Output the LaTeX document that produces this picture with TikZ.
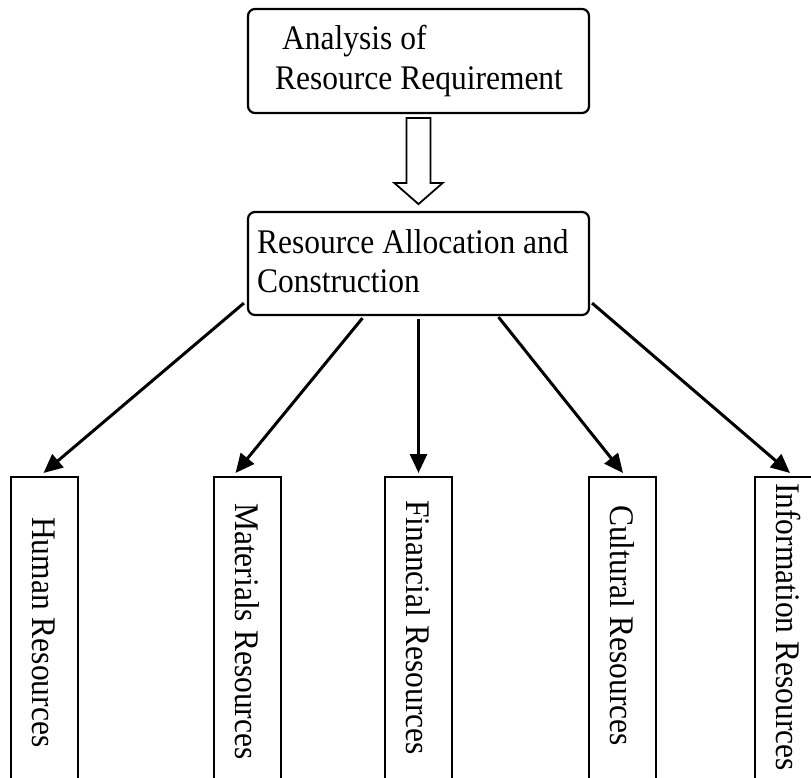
\documentclass[tikz,border=0pt]{standalone}
\usepackage{fontspec}
\setmainfont{Liberation Serif}[FakeStretch=0.913]
\usetikzlibrary{arrows.meta,calc}

\tikzset{
  x=1pt, y=1pt,
  txt/.style={inner sep=0pt, font=\fontsize{34.5}{40}\selectfont},
  roundbox/.style={draw, line width=2.2pt, rounded corners=7pt, inner sep=0pt,
    minimum width=341pt},
  resbox/.style={draw, line width=2.2pt, inner sep=0pt, anchor=north,
    minimum width=67pt, minimum height=420pt},
  restext/.style={txt, rotate=-90, anchor=base west},
  link/.style={line width=3pt, -{Triangle[length=19pt,width=17pt]}},
  hollow/.style={draw, line width=1.8pt, line join=miter, fill=white}
}

\begin{document}
\begin{tikzpicture}
  \clip (0,0) rectangle (811,-778);
  \fill[white] (0,0) rectangle (811,-778);

  % upper boxes
  \node[roundbox, minimum height=104pt] (req) at (418.5,-61) {};
  \node[txt, anchor=base west] (reqA) at (282,-50) {Analysis of};
  \node[txt, anchor=base west] (reqB) at (275,-90) {Resource Requirement};

  \node[roundbox, minimum height=103pt] (alloc) at (418.5,-263.5) {};
  \node[txt, anchor=base west] (allocA) at (257,-253) {Resource Allocation and};
  \node[txt, anchor=base west] (allocB) at (257,-292) {Construction};

  % block arrow between the two upper boxes
  \draw[hollow, shift={(req.south)}]
    (-12,-4) -- (12,-4) -- (12,-69) -- (24,-69) -- (0,-90)
    -- (-24,-69) -- (-12,-69) -- cycle;

  % resource columns
  \node[resbox] (hr)  at (44.5,-476) {};
  \node[resbox] (mat) at (247.5,-476) {};
  \node[resbox] (fin) at (418.5,-476) {};
  \node[resbox] (cul) at (622.5,-476) {};
  \node[resbox] (inf) at (788.5,-476) {};

  \node[restext] (hrT)  at ($(hr.north)+(-12,-41)$)  {Human Resources};
  \node[restext] (matT) at ($(mat.north)+(-12,-27)$) {Materials Resources};
  \node[restext] (finT) at ($(fin.north)+(-12,-24)$) {Financial Resources};
  \node[restext] (culT) at ($(cul.north)+(-12,-29)$) {Cultural Resources};
  \node[restext] (infT) at ($(inf.north)+(-12,-7)$)  {Information Resources};

  % connectors
  \draw[link] ($(alloc.south west)+(-3,13)$) -- ($(hr.north)+(-1,3)$);
  \draw[link] ($(alloc.south)+(-56,-2)$) -- ($(mat.north)+(-12,3)$);
  \draw[link] ($(alloc.south)+(0,-3)$) -- ($(fin.north)+(0,3)$);
  \draw[link] ($(alloc.south)+(80,-1)$) -- ($(cul.north)+(0.5,3)$);
  \draw[link] ($(alloc.south east)+(2,13)$) -- ($(inf.north)+(1.5,3)$);
\end{tikzpicture}
\end{document}
